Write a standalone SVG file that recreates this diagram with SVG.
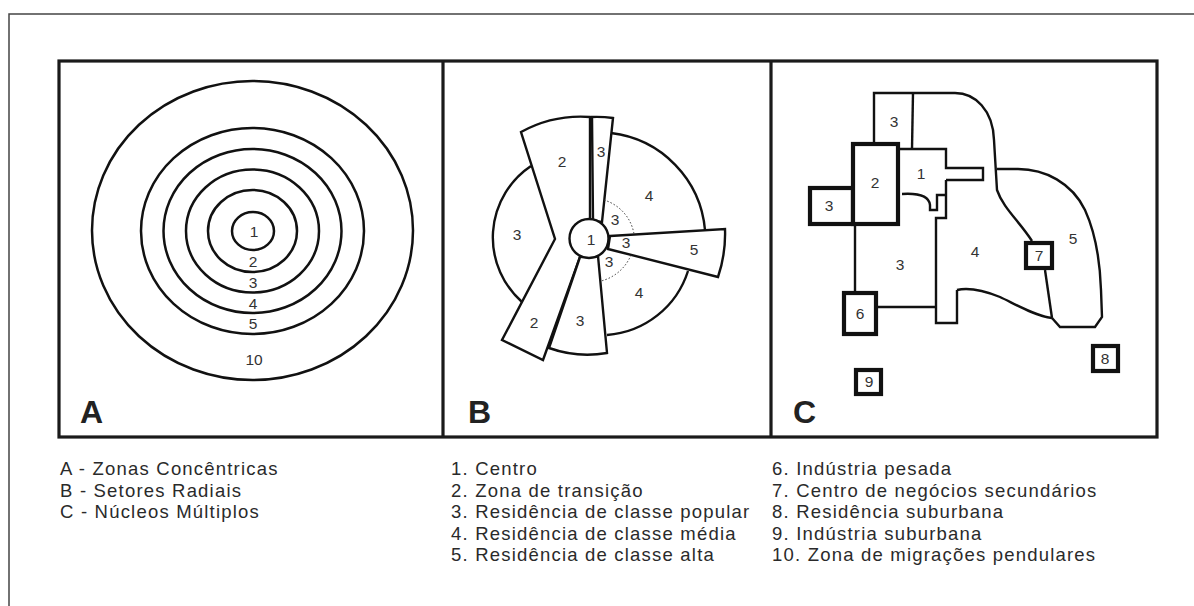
<svg xmlns="http://www.w3.org/2000/svg" width="1194" height="606" viewBox="0 0 1194 606">
  <style>
    .frame { fill: none; stroke: #444; stroke-width: 1.5; }
    .panel { fill: none; stroke: #1a1a1a; stroke-width: 3.2; }
    .ring { fill: none; stroke: #111; stroke-width: 2.5; }
    .zone { fill: #fff; stroke: #111; stroke-width: 2.4; stroke-linejoin: miter; }
    .edge { fill: none; stroke: #111; stroke-width: 2.4; }
    .dots { fill: none; stroke: #333; stroke-width: 1; stroke-dasharray: 1.5 2; }
    .box { fill: #fff; stroke: #111; stroke-width: 4.2; }
    .num { font-family: "Liberation Sans", Arial, sans-serif; font-size: 15.5px; fill: #333; text-anchor: middle; }
    .tag { font-family: "Liberation Sans", Arial, sans-serif; font-size: 32px; font-weight: bold; fill: #222; }
    .key { font-family: "Liberation Sans", Arial, sans-serif; font-size: 18.5px; letter-spacing: 1.2px; fill: #2a2a2a; }
  </style>

  <rect width="1194" height="606" fill="#fff"/>

  <!-- page frame -->
  <path class="frame" d="M9,606 V14 H1194"/>

  <!-- three panels -->
  <g id="panels">
    <rect class="panel" x="59" y="61" width="1098" height="376"/>
    <line class="panel" x1="443" y1="61" x2="443" y2="437"/>
    <line class="panel" x1="771" y1="61" x2="771" y2="437"/>
  </g>

  <!-- A: concentric zones -->
  <g id="panel-a">
    <ellipse class="ring" cx="252.5" cy="230.5" rx="160.5" ry="149.5"/>
    <ellipse class="ring" cx="252.5" cy="231" rx="111.5" ry="103"/>
    <ellipse class="ring" cx="252.5" cy="231" rx="89" ry="82"/>
    <ellipse class="ring" cx="252.5" cy="231" rx="66.5" ry="61.5"/>
    <ellipse class="ring" cx="252.5" cy="231" rx="44.5" ry="41"/>
    <ellipse class="ring" cx="253" cy="231" rx="21" ry="19"/>
    <text class="num" x="254" y="236.5">1</text>
    <text class="num" x="253" y="266.5">2</text>
    <text class="num" x="253" y="287.5">3</text>
    <text class="num" x="253" y="308.5">4</text>
    <text class="num" x="253" y="328.5">5</text>
    <text class="num" x="254" y="364.5">10</text>
    <text class="tag" x="80" y="423">A</text>
  </g>

  <!-- B: radial sectors -->
  <g id="panel-b">
    <path class="edge" d="M531,166 A86,86 0 0 0 522,302"/>
    <path class="edge" d="M611,133 A107,107 0 0 1 705,230"/>
    <path class="edge" d="M688,271 A92,92 0 0 1 607,335"/>
    <path class="zone" d="M590,221 V117 A125,125 0 0 0 521,132 L555,239 L502,340 L543,360 L580,257 Z"/>
    <path class="zone" d="M593,221 L592,117 A123,123 0 0 1 613,118 L602,222 Z"/>
    <path class="zone" d="M610,236 L725,229 A134,134 0 0 1 718,277 L608,249 Z"/>
    <path class="zone" d="M580,257 L549,348 A115,115 0 0 0 607,353 L598,256 Z"/>
    <path class="dots" d="M604,200 A43,43 0 0 1 634,234"/>
    <path class="dots" d="M631,255 A44,44 0 0 1 601,281"/>
    <circle class="zone" cx="589" cy="238.5" r="19.5"/>
    <text class="num" x="591" y="245">1</text>
    <text class="num" x="562" y="167">2</text>
    <text class="num" x="601" y="157">3</text>
    <text class="num" x="649" y="201">4</text>
    <text class="num" x="517" y="240">3</text>
    <text class="num" x="615" y="225">3</text>
    <text class="num" x="626" y="248">3</text>
    <text class="num" x="609" y="267">3</text>
    <text class="num" x="694" y="255">5</text>
    <text class="num" x="639" y="298">4</text>
    <text class="num" x="534" y="328">2</text>
    <text class="num" x="580" y="326">3</text>
    <text class="tag" x="468" y="423">B</text>
  </g>

  <!-- C: multiple nuclei -->
  <g id="panel-c">
    <!-- outer limit of zones 3 and 4 -->
    <path class="edge" d="M874,142 V93 H955 C975,93 993,110 994,140 L997,190 C1003,208 1020,222 1032,241"/>
    <line class="edge" x1="913" y1="93" x2="912" y2="149"/>
    <!-- zone 5 -->
    <path class="edge" d="M997,169 L1018,169 C1045,169 1072,183 1085,210 C1095,232 1100,260 1101,290 L1102,317 L1095,327 L1060,327 L1052,318"/>
    <line class="edge" x1="1045" y1="270" x2="1052" y2="318"/>
    <!-- lower edge of zone 4 -->
    <path class="edge" d="M957,290 C970,287 985,291 1000,297 C1015,304 1035,316 1052,318"/>
    <path class="edge" d="M946,180 V218 H936 V323 H957 V290"/>
    <!-- zone 1 -->
    <path class="edge" d="M900,149 H946 V168 H983 V180 H946"/>
    <path class="edge" d="M902,194 C918,193 929,196 930,205 V210 H937 V195 H946"/>
    <!-- links to zone 6 -->
    <line class="edge" x1="855" y1="226" x2="855" y2="291"/>
    <line class="edge" x1="878" y1="307" x2="936" y2="307"/>
    <!-- nuclei boxes -->
    <rect class="box" x="810" y="188" width="43" height="36"/>
    <rect class="box" x="853" y="144" width="45" height="80"/>
    <rect class="box" x="844" y="293" width="32" height="41"/>
    <rect class="box" x="1026" y="243" width="26" height="25"/>
    <rect class="box" x="1093" y="346" width="25" height="25"/>
    <rect class="box" x="856" y="370" width="25" height="24"/>
    <text class="num" x="894" y="127">3</text>
    <text class="num" x="921" y="179">1</text>
    <text class="num" x="875" y="188">2</text>
    <text class="num" x="829" y="211">3</text>
    <text class="num" x="900" y="270">3</text>
    <text class="num" x="975" y="257">4</text>
    <text class="num" x="1039" y="261">7</text>
    <text class="num" x="1073" y="244">5</text>
    <text class="num" x="860" y="319">6</text>
    <text class="num" x="1105" y="364">8</text>
    <text class="num" x="869" y="387">9</text>
    <text class="tag" x="793" y="423">C</text>
  </g>

  <!-- key -->
  <g id="legend">
    <text class="key" x="60" y="475">A - Zonas Concêntricas</text>
    <text class="key" x="60" y="496.5">B - Setores Radiais</text>
    <text class="key" x="60" y="518">C - Núcleos Múltiplos</text>
    <text class="key" x="451" y="475">1. Centro</text>
    <text class="key" x="451" y="496.5">2. Zona de transição</text>
    <text class="key" x="451" y="518">3. Residência de classe popular</text>
    <text class="key" x="451" y="539.5">4. Residência de classe média</text>
    <text class="key" x="451" y="561">5. Residência de classe alta</text>
    <text class="key" x="772" y="475">6. Indústria pesada</text>
    <text class="key" x="772" y="496.5">7. Centro de negócios secundários</text>
    <text class="key" x="772" y="518">8. Residência suburbana</text>
    <text class="key" x="772" y="539.5">9. Indústria suburbana</text>
    <text class="key" x="772" y="561">10. Zona de migrações pendulares</text>
  </g>
</svg>
